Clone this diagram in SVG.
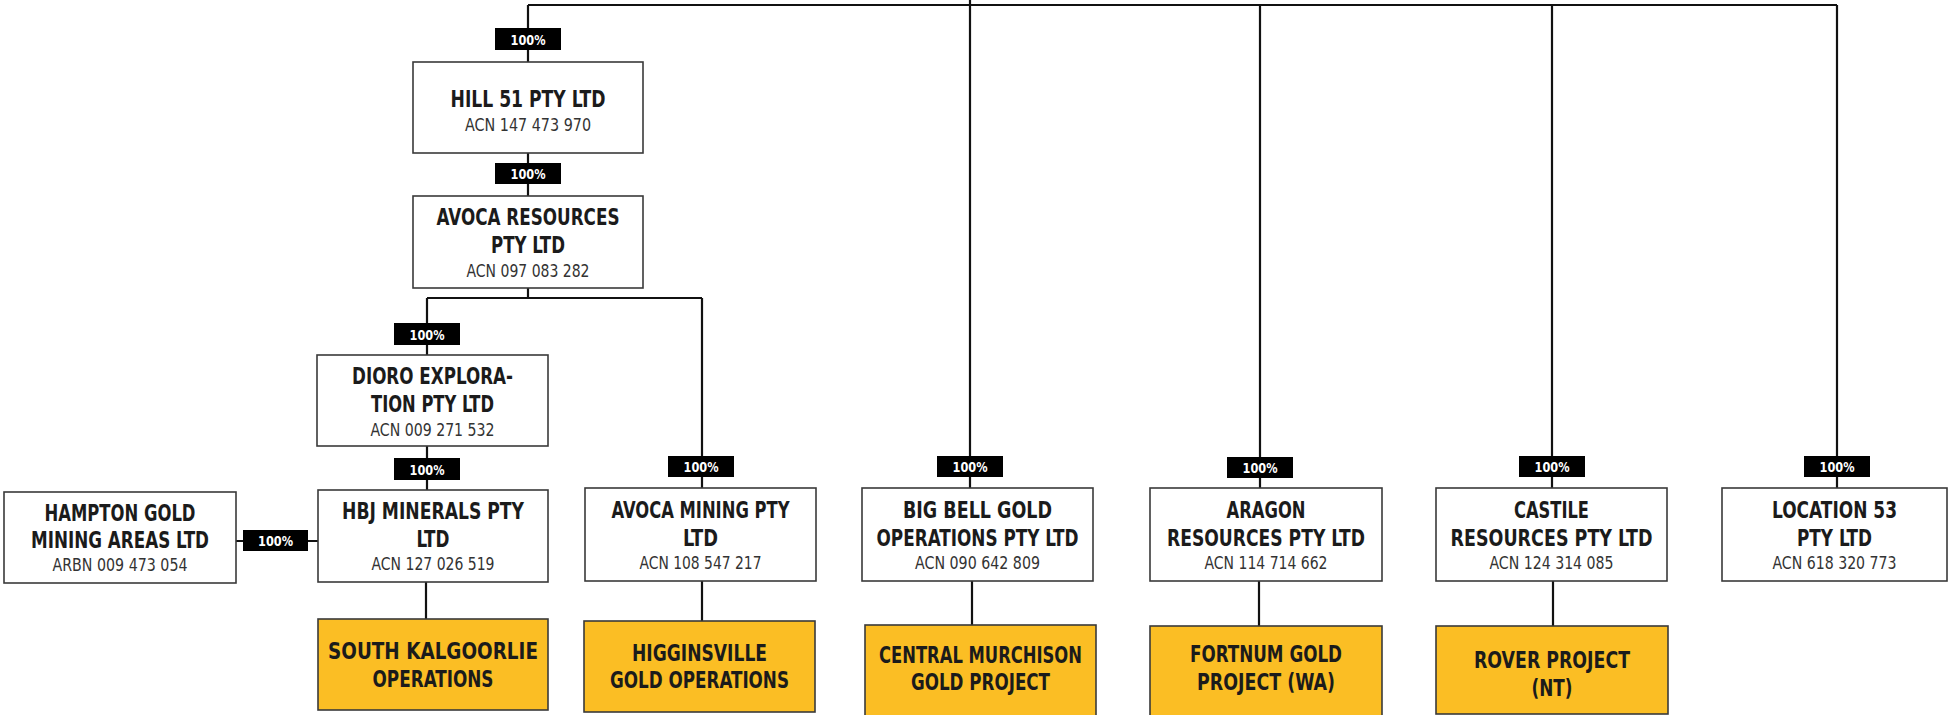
<svg xmlns="http://www.w3.org/2000/svg" width="1950" height="715" viewBox="0 0 1950 715">
<style>
.box{fill:#fff;stroke:#3a3a3a;stroke-width:1.6}
.ybox{fill:#FBBE24;stroke:#3a3a3a;stroke-width:1.6}
text{font-family:"Liberation Sans Narrow","DejaVu Sans Condensed","Liberation Sans",sans-serif;text-anchor:middle}
.t{font-weight:bold;font-size:22.5px;fill:#1b1b1b}
.a{font-size:17px;fill:#333}
.lb{fill:#000}
.lt{font-weight:bold;font-size:14.5px;fill:#fff}
.c{fill:none;stroke:#111;stroke-width:2.2}
</style>
<g id="connectors">
<path class="c" d="M528,5 H1837 M970,0 V488 M528,5 V62 M1260,5 V488 M1552,5 V488 M1837,5 V488"/>
<path class="c" d="M528,153 V196 M528,288 V298 M427,298 H702 M427,298 V355 M702,298 V488"/>
<path class="c" d="M427,446 V490 M426,582 V619 M236,541 H318"/>
<path class="c" d="M702,581 V621 M972,581 V625 M1259,581 V626 M1553,581 V626"/>
</g>
<g id="labels">
<rect class="lb" x="495" y="28" width="66" height="22"/><text class="lt" x="528" y="44.5" textLength="35" lengthAdjust="spacingAndGlyphs">100%</text>
<rect class="lb" x="495" y="163" width="66" height="21"/><text class="lt" x="528" y="179" textLength="35" lengthAdjust="spacingAndGlyphs">100%</text>
<rect class="lb" x="394" y="323" width="66" height="22"/><text class="lt" x="427" y="339.5" textLength="35" lengthAdjust="spacingAndGlyphs">100%</text>
<rect class="lb" x="394" y="458" width="66" height="22"/><text class="lt" x="427" y="474.5" textLength="35" lengthAdjust="spacingAndGlyphs">100%</text>
<rect class="lb" x="243" y="530" width="65" height="21"/><text class="lt" x="275.5" y="546" textLength="35" lengthAdjust="spacingAndGlyphs">100%</text>
<rect class="lb" x="668" y="456" width="66" height="21"/><text class="lt" x="701" y="472" textLength="35" lengthAdjust="spacingAndGlyphs">100%</text>
<rect class="lb" x="937" y="456" width="66" height="21"/><text class="lt" x="970" y="472" textLength="35" lengthAdjust="spacingAndGlyphs">100%</text>
<rect class="lb" x="1227" y="457" width="66" height="21"/><text class="lt" x="1260" y="473" textLength="35" lengthAdjust="spacingAndGlyphs">100%</text>
<rect class="lb" x="1519" y="456" width="66" height="21"/><text class="lt" x="1552" y="472" textLength="35" lengthAdjust="spacingAndGlyphs">100%</text>
<rect class="lb" x="1804" y="456" width="66" height="21"/><text class="lt" x="1837" y="472" textLength="35" lengthAdjust="spacingAndGlyphs">100%</text>
</g>
<g id="hill51">
<rect class="box" x="413" y="62" width="230" height="91"/>
<text class="t" x="528" y="107" textLength="155" lengthAdjust="spacingAndGlyphs">HILL 51 PTY LTD</text>
<text class="a" x="528" y="131" textLength="126" lengthAdjust="spacingAndGlyphs">ACN 147 473 970</text>
</g>
<g id="avoca-resources">
<rect class="box" x="413" y="196" width="230" height="92"/>
<text class="t" x="528" y="225" textLength="183" lengthAdjust="spacingAndGlyphs">AVOCA RESOURCES</text>
<text class="t" x="528" y="253" textLength="74" lengthAdjust="spacingAndGlyphs">PTY LTD</text>
<text class="a" x="528" y="277" textLength="123" lengthAdjust="spacingAndGlyphs">ACN 097 083 282</text>
</g>
<g id="dioro">
<rect class="box" x="317" y="355" width="231" height="91"/>
<text class="t" x="432.5" y="384" textLength="161" lengthAdjust="spacingAndGlyphs">DIORO EXPLORA-</text>
<text class="t" x="432.5" y="412" textLength="123" lengthAdjust="spacingAndGlyphs">TION PTY LTD</text>
<text class="a" x="432.5" y="436" textLength="124" lengthAdjust="spacingAndGlyphs">ACN 009 271 532</text>
</g>
<g id="hampton">
<rect class="box" x="4" y="492" width="232" height="91"/>
<text class="t" x="120" y="521" textLength="151" lengthAdjust="spacingAndGlyphs">HAMPTON GOLD</text>
<text class="t" x="120" y="548" textLength="178" lengthAdjust="spacingAndGlyphs">MINING AREAS LTD</text>
<text class="a" x="120" y="571" textLength="135" lengthAdjust="spacingAndGlyphs">ARBN 009 473 054</text>
</g>
<g id="hbj">
<rect class="box" x="318" y="490" width="230" height="92"/>
<text class="t" x="433" y="519" textLength="182" lengthAdjust="spacingAndGlyphs">HBJ MINERALS PTY</text>
<text class="t" x="433" y="547" textLength="33" lengthAdjust="spacingAndGlyphs">LTD</text>
<text class="a" x="433" y="570" textLength="123" lengthAdjust="spacingAndGlyphs">ACN 127 026 519</text>
</g>
<g id="avoca-mining">
<rect class="box" x="585" y="488" width="231" height="93"/>
<text class="t" x="700.5" y="518" textLength="178" lengthAdjust="spacingAndGlyphs">AVOCA MINING PTY</text>
<text class="t" x="700.5" y="546" textLength="35" lengthAdjust="spacingAndGlyphs">LTD</text>
<text class="a" x="700.5" y="569" textLength="122" lengthAdjust="spacingAndGlyphs">ACN 108 547 217</text>
</g>
<g id="big-bell">
<rect class="box" x="862" y="488" width="231" height="93"/>
<text class="t" x="977.5" y="518" textLength="149" lengthAdjust="spacingAndGlyphs">BIG BELL GOLD</text>
<text class="t" x="977.5" y="546" textLength="202" lengthAdjust="spacingAndGlyphs">OPERATIONS PTY LTD</text>
<text class="a" x="977.5" y="569" textLength="125" lengthAdjust="spacingAndGlyphs">ACN 090 642 809</text>
</g>
<g id="aragon">
<rect class="box" x="1150" y="488" width="232" height="93"/>
<text class="t" x="1266" y="518" textLength="79" lengthAdjust="spacingAndGlyphs">ARAGON</text>
<text class="t" x="1266" y="546" textLength="198" lengthAdjust="spacingAndGlyphs">RESOURCES PTY LTD</text>
<text class="a" x="1266" y="569" textLength="123" lengthAdjust="spacingAndGlyphs">ACN 114 714 662</text>
</g>
<g id="castile">
<rect class="box" x="1436" y="488" width="231" height="93"/>
<text class="t" x="1551.5" y="518" textLength="75" lengthAdjust="spacingAndGlyphs">CASTILE</text>
<text class="t" x="1551.5" y="546" textLength="202" lengthAdjust="spacingAndGlyphs">RESOURCES PTY LTD</text>
<text class="a" x="1551.5" y="569" textLength="124" lengthAdjust="spacingAndGlyphs">ACN 124 314 085</text>
</g>
<g id="location53">
<rect class="box" x="1722" y="488" width="225" height="93"/>
<text class="t" x="1834.5" y="518" textLength="125" lengthAdjust="spacingAndGlyphs">LOCATION 53</text>
<text class="t" x="1834.5" y="546" textLength="75" lengthAdjust="spacingAndGlyphs">PTY LTD</text>
<text class="a" x="1834.5" y="569" textLength="124" lengthAdjust="spacingAndGlyphs">ACN 618 320 773</text>
</g>
<g id="south-kalgoorlie">
<rect class="ybox" x="318" y="619" width="230" height="91"/>
<text class="t" x="433" y="659" textLength="210" lengthAdjust="spacingAndGlyphs">SOUTH KALGOORLIE</text>
<text class="t" x="433" y="687" textLength="121" lengthAdjust="spacingAndGlyphs">OPERATIONS</text>
</g>
<g id="higginsville">
<rect class="ybox" x="584" y="621" width="231" height="91"/>
<text class="t" x="699.5" y="661" textLength="135" lengthAdjust="spacingAndGlyphs">HIGGINSVILLE</text>
<text class="t" x="699.5" y="688" textLength="179" lengthAdjust="spacingAndGlyphs">GOLD OPERATIONS</text>
</g>
<g id="central-murchison">
<rect class="ybox" x="865" y="625" width="231" height="95"/>
<text class="t" x="980.5" y="663" textLength="203" lengthAdjust="spacingAndGlyphs">CENTRAL MURCHISON</text>
<text class="t" x="980.5" y="690" textLength="139" lengthAdjust="spacingAndGlyphs">GOLD PROJECT</text>
</g>
<g id="fortnum">
<rect class="ybox" x="1150" y="626" width="232" height="94"/>
<text class="t" x="1266" y="662" textLength="152" lengthAdjust="spacingAndGlyphs">FORTNUM GOLD</text>
<text class="t" x="1266" y="690" textLength="138" lengthAdjust="spacingAndGlyphs">PROJECT (WA)</text>
</g>
<g id="rover">
<rect class="ybox" x="1436" y="626" width="232" height="88"/>
<text class="t" x="1552" y="668" textLength="156" lengthAdjust="spacingAndGlyphs">ROVER PROJECT</text>
<text class="t" x="1552" y="696" textLength="41" lengthAdjust="spacingAndGlyphs">(NT)</text>
</g>
</svg>
